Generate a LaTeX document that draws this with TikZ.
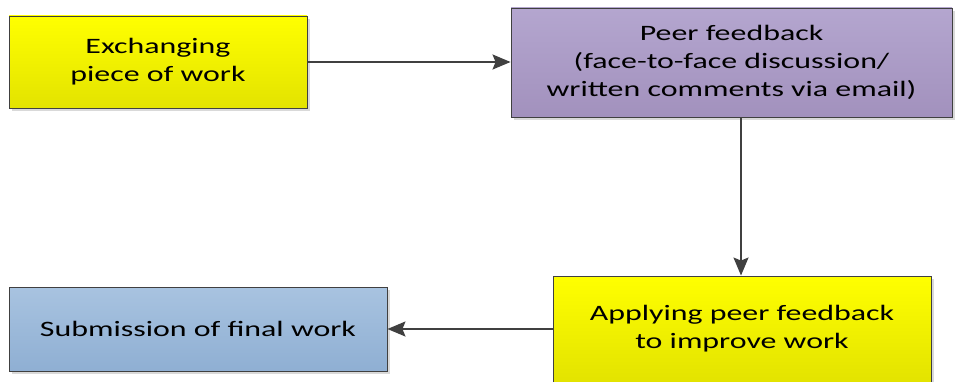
\documentclass[tikz,border=0pt]{standalone}
\usepackage{fontspec}
\setmainfont[FakeStretch=1.45]{Carlito}
\usetikzlibrary{arrows.meta,shadows}
\definecolor{edge}{HTML}{404040}
\definecolor{ylwtop}{HTML}{FFFF00}
\definecolor{ylwbot}{HTML}{E3E300}
\definecolor{purtop}{HTML}{B4A6CF}
\definecolor{purbot}{HTML}{A291BD}
\definecolor{blutop}{HTML}{A8C3E0}
\definecolor{blubot}{HTML}{8FAFD3}
\tikzset{
  box/.style={draw=edge, line width=0.9pt, inner sep=0pt, align=center,
    font=\fontsize{22}{28}\selectfont,
    drop shadow={shadow xshift=3pt, shadow yshift=-3pt, fill=black!15, opacity=1}},
  yellowbox/.style={box, top color=ylwtop, bottom color=ylwbot},
  purplebox/.style={box, top color=purtop, bottom color=purbot},
  bluebox/.style={box, top color=blutop, bottom color=blubot},
  link/.style={draw=edge, line width=1.8pt, -{Stealth[length=18pt,width=15pt,inset=3pt]}}
}
\begin{document}
\begin{tikzpicture}[x=1pt,y=-1pt]
\useasboundingbox (0,0) rectangle (963,382);
\node[yellowbox, minimum width=298pt, minimum height=92pt] (exch) at (158,62)
  {Exchanging\\piece of work};
\node[purplebox, minimum width=441pt, minimum height=109pt] (peer) at (731.5,62.5)
  {Peer feedback\\(face-to-face discussion/\\written comments via email)};
\node[yellowbox, minimum width=378pt, minimum height=106pt] (apply) at (742,329)
  {Applying peer feedback\\to improve work};
\node[bluebox, minimum width=378pt, minimum height=84pt] (final) at (198,329)
  {Submission of final work};
\draw[link] (exch.east) -- (peer.west |- exch.east);
\draw[link] (peer.south -| 741,0) -- (apply.north -| 741,0);
\draw[link] (apply.west |- final.east) -- (final.east);
\end{tikzpicture}
\end{document}
